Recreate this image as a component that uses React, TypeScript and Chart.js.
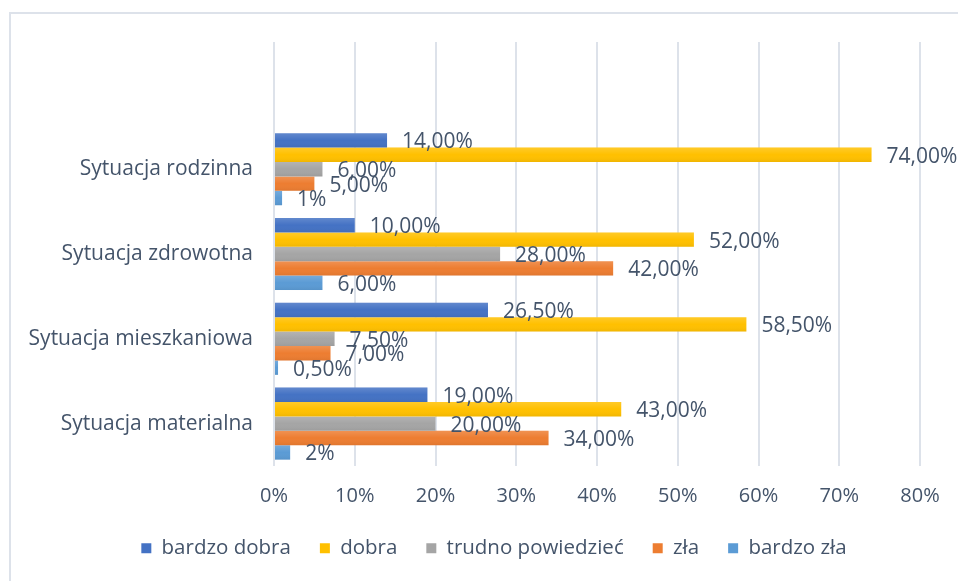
import React, { useEffect, useRef } from "react";
import { Chart, registerables } from "chart.js";

Chart.register(...registerables);

const categories = ["", "Sytuacja rodzinna", "Sytuacja zdrowotna", "Sytuacja mieszkaniowa", "Sytuacja materialna"];
const seriesNames = ["bardzo dobra", "dobra", "trudno powiedzieć", "zła", "bardzo zła"];
const seriesColors = ["#4472C4", "#FFC000", "#A5A5A5", "#ED7D31", "#5B9BD5"];

const bardzoDobra = [null, 14, 10, 26.5, 19];
const dobra = [null, 74, 52, 58.5, 43];
const trudno = [null, 6, 28, 7.5, 20];
const zla = [null, 5, 42, 7, 34];
const bardzoZla = [null, 1, 6, 0.5, 2];

const bardzoDobraLabels = ["", "14,00%", "10,00%", "26,50%", "19,00%"];
const dobraLabels = ["", "74,00%", "52,00%", "58,50%", "43,00%"];
const trudnoLabels = ["", "6,00%", "28,00%", "7,50%", "20,00%"];
const zlaLabels = ["", "5,00%", "42,00%", "7,00%", "34,00%"];
const bardzoZlaLabels = ["", "1%", "6,00%", "0,50%", "2%"];

const xTicks = [0, 10, 20, 30, 40, 50, 60, 70, 80];

const TEXT = "#44546A";
const FONT = "'Open Sans', sans-serif";

const allValues = [bardzoDobra, dobra, trudno, zla, bardzoZla];
const allLabels = [bardzoDobraLabels, dobraLabels, trudnoLabels, zlaLabels, bardzoZlaLabels];

const framePlugin = {
  id: "frame",
  afterLayout(chart: any) {
    const lg = chart.legend;
    if (lg) {
      const h = lg.bottom - lg.top;
      lg.top = 509;
      lg.bottom = 509 + h;
      lg.left += 34;
      lg.right += 34;
    }
  },
  beforeDraw(chart: any) {
    const ctx = chart.ctx;
    ctx.save();
    ctx.fillStyle = "#ffffff";
    ctx.fillRect(0, 0, chart.width, chart.height);
    ctx.strokeStyle = "#dde2ea";
    ctx.lineWidth = 2;
    ctx.strokeRect(10, 13, 2000, 2000);
    ctx.restore();
  },
};

const labelPlugin = {
  id: "valueLabels",
  afterDatasetsDraw(chart: any) {
    const ctx = chart.ctx;
    ctx.save();
    // subtle vertical shading on bars
    chart.data.datasets.forEach((ds: any, di: number) => {
      const meta = chart.getDatasetMeta(di);
      meta.data.forEach((el: any, i: number) => {
        if (ds.data[i] == null) return;
        const h = el.height;
        const top = el.y - h / 2;
        const g = ctx.createLinearGradient(0, top, 0, top + h);
        g.addColorStop(0, "rgba(255,255,255,0.16)");
        g.addColorStop(0.5, "rgba(255,255,255,0)");
        g.addColorStop(1, "rgba(0,0,0,0.06)");
        ctx.fillStyle = g;
        ctx.fillRect(el.base, top, el.x - el.base, h);
      });
    });
    ctx.font = `21px ${FONT}`;
    ctx.fillStyle = TEXT;
    ctx.textAlign = "left";
    ctx.textBaseline = "middle";
    chart.data.datasets.forEach((ds: any, di: number) => {
      const meta = chart.getDatasetMeta(di);
      meta.data.forEach((el: any, i: number) => {
        const txt = allLabels[di][i];
        if (!txt || ds.data[i] == null) return;
        ctx.fillText(txt, el.x + 15, el.y + 2);
      });
    });
    ctx.restore();
  },
};

export default function App() {
  const ref = useRef<HTMLCanvasElement | null>(null);
  useEffect(() => {
    if (!ref.current) return;
    const chart = new Chart(ref.current, {
      type: "bar",
      data: {
        labels: categories,
        datasets: seriesNames.map((name, i) => ({
          label: name,
          data: allValues[i],
          backgroundColor: seriesColors[i],
          borderWidth: 0,
          categoryPercentage: 0.85,
          barPercentage: 1.0,
        })),
      },
      options: {
        indexAxis: "y",
        animation: false,
        responsive: false,
        maintainAspectRatio: false,
        layout: { padding: { top: 42, right: 38, left: 0, bottom: 14 } },
        plugins: {
          tooltip: { enabled: false },
          legend: {
            position: "bottom",
            maxHeight: 55,
            labels: {
              boxWidth: 10,
              boxHeight: 10,
              padding: 29,
              color: TEXT,
              font: { family: FONT, size: 20.5 },
            },
          },
        },
        scales: {
          x: {
            min: 0,
            max: 80,
            afterBuildTicks(scale: any) {
              scale.ticks = xTicks.map((v) => ({ value: v }));
            },
            afterFit(scale: any) {
              scale.height = 46;
            },
            ticks: {
              callback: (v: any) => v + "%",
              color: TEXT,
              font: { family: FONT, size: 20 },
              padding: 18,
              maxRotation: 0,
            },
            grid: { color: "#dde2ea", lineWidth: 2, drawTicks: false },
            border: { display: false },
          },
          y: {
            afterFit(scale: any) {
              scale.width = 274;
            },
            ticks: {
              color: TEXT,
              font: { family: FONT, size: 21 },
              padding: 21,
            },
            grid: { display: false, drawTicks: false },
            border: { display: false },
          },
        },
      },
      plugins: [framePlugin, labelPlugin],
    });
    return () => chart.destroy();
  }, []);
  return (
    <div style={{ position: "absolute", left: 0, top: 0, width: 958, height: 581 }}>
      <canvas ref={ref} width={958} height={581} style={{ width: 958, height: 581 }} />
    </div>
  );
}
